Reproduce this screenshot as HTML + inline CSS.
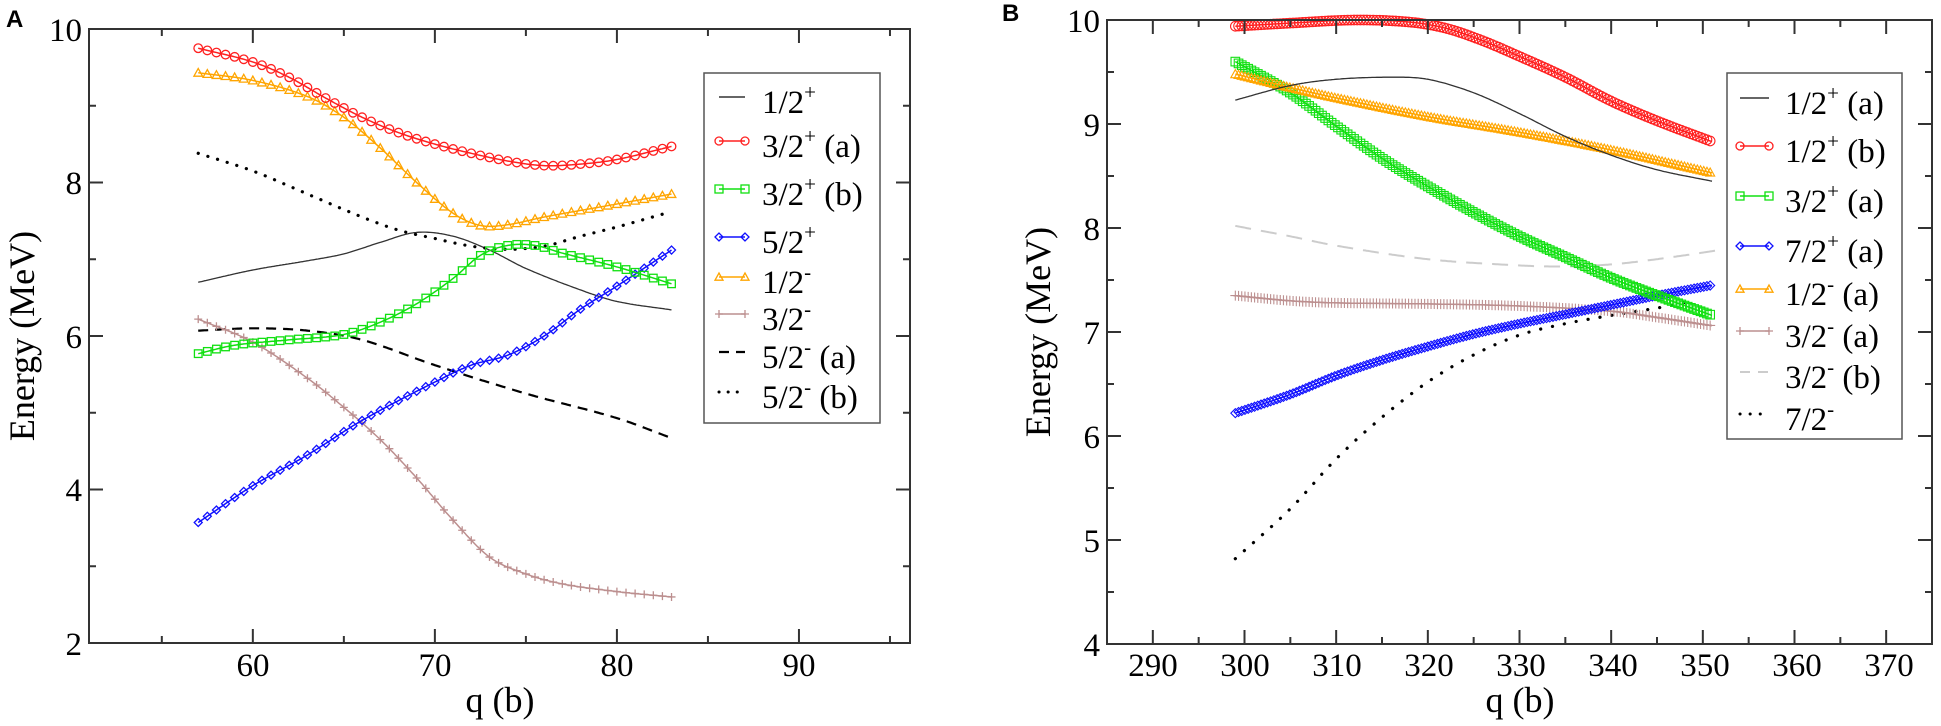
<!DOCTYPE html>
<html><head><meta charset="utf-8">
<style>
html,body{margin:0;padding:0;background:#fff;}
svg{display:block;}
svg text, svg tspan{font-family:"Liberation Serif","Times New Roman",serif;}
.tl{font-size:33px;}
.ax{font-size:36px;}
.lg{font-size:33px;}
.sup{font-size:21px;}
svg text.pl{font-family:"Liberation Sans",Arial,sans-serif;font-weight:bold;font-size:24px;}
</style></head>
<body>
<svg id="s" width="1941" height="726" viewBox="0 0 1941 726" xmlns="http://www.w3.org/2000/svg" font-family="Liberation Serif, serif">
<rect width="1941" height="726" fill="#fff"/>
<text class="pl" x="6" y="27" font-family="Liberation Sans, sans-serif">A</text>
<text class="pl" x="1002" y="21" font-family="Liberation Sans, sans-serif">B</text>
<g id="ga"></g>
<g id="gb"></g>
<g class="tl" text-anchor="end" font-family="Liberation Serif, serif">
<text x="82" y="41">10</text><text x="82" y="194">8</text><text x="82" y="348">6</text><text x="82" y="501">4</text><text x="82" y="655">2</text>
</g>
<g class="tl" text-anchor="middle" font-family="Liberation Serif, serif">
<text x="253" y="676">60</text><text x="435" y="676">70</text><text x="617" y="676">80</text><text x="799" y="676">90</text>
</g>
<text class="ax" x="500" y="712" text-anchor="middle" font-family="Liberation Serif, serif">q (b)</text>
<text class="ax" transform="translate(34,336) rotate(-90)" text-anchor="middle" font-family="Liberation Serif, serif">Energy (MeV)</text>
<g class="tl" text-anchor="end" font-family="Liberation Serif, serif">
<text x="1100" y="32">10</text><text x="1100" y="136">9</text><text x="1100" y="240">8</text><text x="1100" y="344">7</text><text x="1100" y="448">6</text><text x="1100" y="552">5</text><text x="1100" y="656">4</text>
</g>
<g class="tl" text-anchor="middle" font-family="Liberation Serif, serif">
<text x="1153" y="676">290</text><text x="1245" y="676">300</text><text x="1337" y="676">310</text><text x="1429" y="676">320</text><text x="1521" y="676">330</text><text x="1613" y="676">340</text><text x="1705" y="676">350</text><text x="1797" y="676">360</text><text x="1889" y="676">370</text>
</g>
<text class="ax" x="1520" y="712" text-anchor="middle" font-family="Liberation Serif, serif">q (b)</text>
<text class="ax" transform="translate(1050,332) rotate(-90)" text-anchor="middle" font-family="Liberation Serif, serif">Energy (MeV)</text>

<rect x="704" y="73" width="176" height="350" fill="#fff" stroke="#555" stroke-width="1.5"/>
<g id="lga"></g>
<g class="lg" font-family="Liberation Serif, serif">
<text x="762" y="113">1/2<tspan class="sup" dy="-14">+</tspan></text>
<text x="762" y="157">3/2<tspan class="sup" dy="-14">+</tspan><tspan dy="14"> (a)</tspan></text>
<text x="762" y="205">3/2<tspan class="sup" dy="-14">+</tspan><tspan dy="14"> (b)</tspan></text>
<text x="762" y="253">5/2<tspan class="sup" dy="-14">+</tspan></text>
<text x="762" y="293">1/2<tspan class="sup" dy="-14">-</tspan></text>
<text x="762" y="330">3/2<tspan class="sup" dy="-14">-</tspan></text>
<text x="762" y="368">5/2<tspan class="sup" dy="-14">-</tspan><tspan dy="14"> (a)</tspan></text>
<text x="762" y="408">5/2<tspan class="sup" dy="-14">-</tspan><tspan dy="14"> (b)</tspan></text>
</g>
<rect x="1727" y="73" width="175" height="366" fill="#fff" stroke="#555" stroke-width="1.5"/>
<g id="lgb"></g>
<g class="lg" font-family="Liberation Serif, serif">
<text x="1785" y="114">1/2<tspan class="sup" dy="-14">+</tspan><tspan dy="14"> (a)</tspan></text>
<text x="1785" y="162">1/2<tspan class="sup" dy="-14">+</tspan><tspan dy="14"> (b)</tspan></text>
<text x="1785" y="212">3/2<tspan class="sup" dy="-14">+</tspan><tspan dy="14"> (a)</tspan></text>
<text x="1785" y="262">7/2<tspan class="sup" dy="-14">+</tspan><tspan dy="14"> (a)</tspan></text>
<text x="1785" y="305">1/2<tspan class="sup" dy="-14">-</tspan><tspan dy="14"> (a)</tspan></text>
<text x="1785" y="347">3/2<tspan class="sup" dy="-14">-</tspan><tspan dy="14"> (a)</tspan></text>
<text x="1785" y="388">3/2<tspan class="sup" dy="-14">-</tspan><tspan dy="14"> (b)</tspan></text>
<text x="1785" y="430">7/2<tspan class="sup" dy="-14">-</tspan></text>
</g>
</svg>
<script>
var NS="http://www.w3.org/2000/svg";
function el(p,t,a){var e=document.createElementNS(NS,t);for(var k in a)e.setAttribute(k,a[k]);p.appendChild(e);return e;}
function interp(pts,x){
 var n=pts.length;if(x<=pts[0][0])return pts[0][1];if(x>=pts[n-1][0])return pts[n-1][1];
 var i=0;while(i<n-2&&x>pts[i+1][0])i++;
 var p0=pts[Math.max(0,i-1)],p1=pts[i],p2=pts[i+1],p3=pts[Math.min(n-1,i+2)];
 var t=(x-p1[0])/(p2[0]-p1[0]);
 var m1=(p2[1]-p0[1])/(p2[0]-p0[0])*(p2[0]-p1[0]);
 var m2=(p3[1]-p1[1])/(p3[0]-p1[0])*(p2[0]-p1[0]);
 var t2=t*t,t3=t2*t;
 return (2*t3-3*t2+1)*p1[1]+(t3-2*t2+t)*m1+(-2*t3+3*t2)*p2[1]+(t3-t2)*m2;
}
function marker(g,type,x,y,c,r,sw){
 sw=sw||1.3;
 if(type=='o')el(g,'circle',{cx:x,cy:y,r:r,fill:'none',stroke:c,'stroke-width':sw});
 else if(type=='s')el(g,'rect',{x:x-r,y:y-r,width:2*r,height:2*r,fill:'none',stroke:c,'stroke-width':sw});
 else if(type=='d')el(g,'path',{d:'M'+(x-r)+' '+y+'L'+x+' '+(y-r)+'L'+(x+r)+' '+y+'L'+x+' '+(y+r)+'Z',fill:'none',stroke:c,'stroke-width':sw});
 else if(type=='t')el(g,'path',{d:'M'+(x-r)+' '+(y+r*0.8)+'L'+x+' '+(y-r)+'L'+(x+r)+' '+(y+r*0.8)+'Z',fill:'none',stroke:c,'stroke-width':sw});
 else if(type=='+')el(g,'path',{d:'M'+(x-r)+' '+y+'H'+(x+r)+'M'+x+' '+(y-r)+'V'+(y+r),fill:'none',stroke:c,'stroke-width':sw});
}
function panel(g,P,series){
 var X=function(q){return P.l+(q-P.x0)/(P.x1-P.x0)*(P.r-P.l);};
 var Y=function(v){return P.b-(v-P.y0)/(P.y1-P.y0)*(P.b-P.t);};
 series.forEach(function(s){
  var a=s.pts[0][0],b=s.pts[s.pts.length-1][0],d='';
  for(var i=0;i<=300;i++){var q=a+(b-a)*i/300;d+=(i?'L':'M')+X(q).toFixed(1)+' '+Y(interp(s.pts,q)).toFixed(1);}
  var at={d:d,fill:'none',stroke:s.c,'stroke-width':s.w||1.5};
  if(s.dash)at['stroke-dasharray']=s.dash;
  if(s.cap)at['stroke-linecap']=s.cap;
  el(g,'path',at);
  if(s.m){for(var q=a;q<=b+1e-6;q+=s.step)marker(g,s.m,X(q),Y(interp(s.pts,q)),s.c,s.r,s.sw);}
 });
 el(g,'rect',{x:P.l,y:P.t,width:P.r-P.l,height:P.b-P.t,fill:'none',stroke:'#333','stroke-width':2});
 P.xt.forEach(function(q){var x=X(q),L=(Math.abs(q/10-Math.round(q/10))<1e-6)?14:7;
  el(g,'path',{d:'M'+x+' '+P.b+'V'+(P.b-L)+'M'+x+' '+P.t+'V'+(P.t+L),stroke:'#333','stroke-width':2});});
 P.yt.forEach(function(t){var y=Y(t[0]),L=t[1]?14:7;
  el(g,'path',{d:'M'+P.l+' '+y+'H'+(P.l+L)+'M'+P.r+' '+y+'H'+(P.r-L),stroke:'#333','stroke-width':2});});
}
var red='#ff2020',grn='#10e010',blu='#1010ff',org='#ffa500',brn='#bc8f8f';
var PA={l:89,r:910,t:29,b:643,x0:51,x1:96.1,y0:2,y1:10,xt:[55,60,65,70,75,80,85,90,95],yt:[[3,0],[4,1],[5,0],[6,1],[7,0],[8,1],[9,0]]};
panel(document.getElementById('ga'),PA,[
 {c:'#333',w:1.3,pts:[[57,6.7],[60,6.86],[63,6.98],[65,7.07],[67,7.22],[69,7.35],[71,7.3],[73,7.12],[75,6.88],[78,6.6],[80,6.45],[83,6.34]]},
 {c:'#000',w:2.2,dash:'10 7',pts:[[57,6.07],[60,6.1],[63,6.07],[66,5.95],[70,5.62],[75,5.25],[80,4.93],[83,4.67]]},
 {c:'#000',w:3.2,dash:'0.1 10',cap:'round',pts:[[57,8.38],[60,8.15],[63,7.85],[66,7.55],[68,7.38],[70,7.27],[72,7.17],[74,7.13],[76,7.17],[78,7.3],[80,7.42],[83,7.62]]},
 {c:brn,m:'+',r:4,step:0.5,pts:[[57,6.22],[60,5.92],[63,5.45],[65,5.07],[67,4.65],[69,4.15],[71,3.6],[73,3.12],[75,2.9],[77,2.77],[80,2.67],[83,2.6]]},
 {c:blu,m:'d',r:4,step:0.5,pts:[[57,3.57],[60,4.05],[63,4.45],[66,4.9],[70,5.4],[72,5.62],[74,5.75],[76,6.0],[78,6.35],[80,6.65],[83,7.12]]},
 {c:grn,m:'s',r:3.8,step:0.5,pts:[[57,5.77],[59,5.88],[62,5.95],[65,6.02],[67,6.18],[69,6.42],[71,6.75],[72.5,7.05],[74,7.18],[75.5,7.18],[77,7.08],[80,6.9],[83,6.68]]},
 {c:org,m:'t',r:4.3,step:0.5,pts:[[57,9.43],[60,9.33],[63,9.12],[65,8.85],[67,8.45],[69,8.0],[71,7.6],[72.5,7.44],[74,7.45],[76,7.55],[80,7.72],[83,7.85]]},
 {c:red,m:'o',r:4.3,step:0.5,pts:[[57,9.75],[60,9.57],[62,9.37],[64,9.1],[66,8.85],[68,8.65],[70,8.5],[72,8.38],[74,8.28],[76,8.22],[78,8.24],[80,8.3],[83,8.47]]}
]);
var PB={l:1107,r:1932,t:20,b:644,x0:285,x1:375,y0:4,y1:10,xt:[290,295,300,305,310,315,320,325,330,335,340,345,350,355,360,365,370],yt:[[4.5,0],[5,1],[5.5,0],[6,1],[6.5,0],[7,1],[7.5,0],[8,1],[8.5,0],[9,1],[9.5,0]]};
panel(document.getElementById('gb'),PB,[
 {c:'#ccc',w:2,dash:'16 10',pts:[[299,8.02],[305,7.92],[310,7.83],[320,7.7],[330,7.64],[335,7.63],[340,7.65],[345,7.7],[352,7.79]]},
 {c:'#000',w:3.2,dash:'0.1 12',cap:'round',pts:[[299,4.82],[305,5.3],[310,5.78],[315,6.18],[320,6.52],[325,6.78],[330,6.97],[335,7.08],[340,7.16],[345,7.23],[349,7.3]]},
 {c:brn,m:'+',r:5,step:0.35,sw:1.1,pts:[[299,7.35],[305,7.3],[310,7.28],[320,7.27],[330,7.25],[340,7.2],[345,7.14],[351,7.06]]},
 {c:blu,m:'d',r:4.5,step:0.35,sw:1.1,pts:[[299,6.22],[305,6.4],[310,6.58],[315,6.73],[320,6.86],[325,6.98],[330,7.08],[335,7.17],[340,7.26],[345,7.35],[351,7.45]]},
 {c:grn,m:'s',r:4.3,step:0.35,sw:1.1,pts:[[299,9.6],[305,9.3],[310,8.98],[315,8.67],[320,8.4],[325,8.15],[330,7.92],[335,7.72],[340,7.52],[345,7.35],[351,7.16]]},
 {c:org,m:'t',r:4.5,step:0.35,sw:1.1,pts:[[299,9.48],[305,9.35],[310,9.25],[320,9.07],[330,8.92],[340,8.75],[351,8.53]]},
 {c:'#333',w:1.3,pts:[[299,9.23],[305,9.37],[310,9.43],[316,9.45],[320,9.43],[325,9.3],[330,9.1],[335,8.88],[340,8.7],[345,8.56],[351,8.45]]},
 {c:red,m:'o',r:4.8,step:0.35,sw:1.1,pts:[[299,9.94],[305,9.97],[312,10.0],[318,9.98],[322,9.92],[326,9.8],[330,9.65],[335,9.45],[340,9.22],[345,9.03],[351,8.83]]}
]);
function leg(g,x1,x2,rows){
 rows.forEach(function(r){var y=r[0];var at={d:'M'+x1+' '+y+'H'+x2,stroke:r[1],'stroke-width':r[4]||1.5,fill:'none'};
  if(r[3])at['stroke-dasharray']=r[3];if(r[5])at['stroke-linecap']='round';el(g,'path',at);
  if(r[2]){marker(g,r[2],x1,y,r[1],4);marker(g,r[2],x2,y,r[1],4);}});
}
leg(document.getElementById('lga'),719,745,[[97,'#333',null],[141,red,'o'],[189,grn,'s'],[237,blu,'d'],[277,org,'t'],[314,brn,'+'],[352,'#000',null,'10 7',2.2],[392,'#000',null,'0.1 9',3,1]]);
leg(document.getElementById('lgb'),1740,1769,[[98,'#333',null],[146,red,'o'],[196,grn,'s'],[246,blu,'d'],[289,org,'t'],[331,brn,'+'],[372,'#ccc',null,'10 8',2],[414,'#000',null,'0.1 10',3,1]]);
</script>
</body></html>
